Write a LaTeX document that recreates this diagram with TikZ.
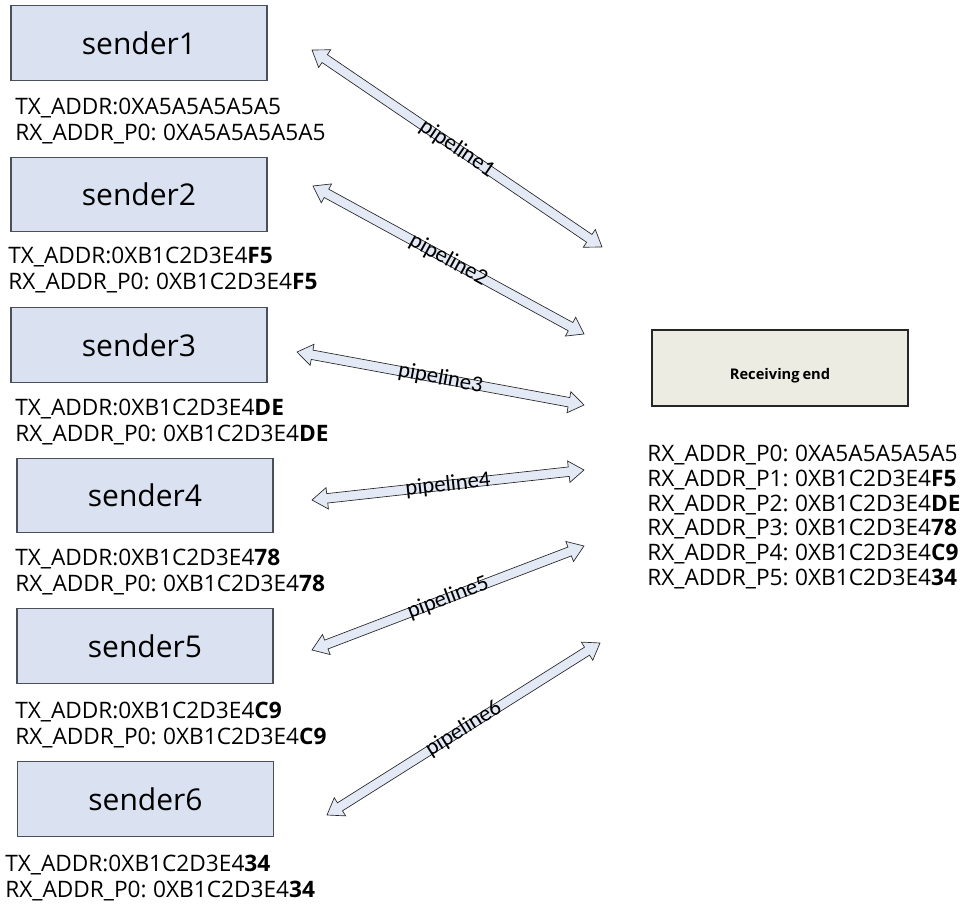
\documentclass[tikz,border=0pt]{standalone}
\usepackage{fontspec}
\setmainfont{Open Sans}[WordSpace=0.75]
\newfontfamily\pipefont{Carlito}
\usetikzlibrary{calc}
\usetikzlibrary{shapes.arrows}

\definecolor{senderfill}{HTML}{DAE1F0}
\definecolor{recvfill}{HTML}{ECECE2}
\definecolor{pipefill}{HTML}{E3E9F5}
\definecolor{boxline}{HTML}{4A4F58}

\begin{document}
\begin{tikzpicture}[
    x=0.75pt, y=-0.75pt,
    senderbox/.style={
      draw=boxline, fill=senderfill, line width=0.8pt,
      minimum width=192pt, minimum height=56pt,
      font=\fontsize{22.5}{26}\selectfont
    },
    recvbox/.style={
      draw=black!85, fill=recvfill, line width=0.8pt,
      minimum width=192pt, minimum height=57pt
    },
    addr/.style={
      anchor=west, align=left, inner sep=0pt,
      font=\fontsize{17}{19.5}\selectfont
    },
    pipe/.style={
      double arrow, draw=black!85, fill=pipefill, line width=0.5pt,
      inner sep=3.3pt, double arrow head extend=4.5pt,
      double arrow head indent=0pt, double arrow tip angle=70
    },
    pipelabel/.style={
      sloped, inner sep=0pt, font=\pipefont\fontsize{17}{17}\selectfont
    }
  ]
    \useasboundingbox (0,0) rectangle (965,913);

    \node[senderbox] (S1) at (139,  43)   {sender1};
    \node[senderbox] (S2) at (139, 194.5) {sender2};
    \node[senderbox] (S3) at (139, 345)   {sender3};
    \node[senderbox] (S4) at (145, 495.5) {sender4};
    \node[senderbox] (S5) at (145, 646)   {sender5};
    \node[senderbox] (S6) at (145.5,799)  {sender6};

    \node[addr] (S1A) at (15,121) {TX\_ADDR:0XA5A5A5A5A5\\RX\_ADDR\_P0: 0XA5A5A5A5A5};
    \node[addr] (S2A) at ( 8,270) {TX\_ADDR:0XB1C2D3E4\textbf{F5}\\RX\_ADDR\_P0: 0XB1C2D3E4\textbf{F5}};
    \node[addr] (S3A) at (15,422) {TX\_ADDR:0XB1C2D3E4\textbf{DE}\\RX\_ADDR\_P0: 0XB1C2D3E4\textbf{DE}};
    \node[addr] (S4A) at (15,572) {TX\_ADDR:0XB1C2D3E4\textbf{78}\\RX\_ADDR\_P0: 0XB1C2D3E4\textbf{78}};
    \node[addr] (S5A) at (15,725) {TX\_ADDR:0XB1C2D3E4\textbf{C9}\\RX\_ADDR\_P0: 0XB1C2D3E4\textbf{C9}};
    \node[addr] (S6A) at ( 5,878) {TX\_ADDR:0XB1C2D3E4\textbf{34}\\RX\_ADDR\_P0: 0XB1C2D3E4\textbf{34}};

    \node[recvbox] (RE) at (780,368) {};
    \node[font=\fontsize{11}{13}\bfseries] (RET) at ([yshift=-6pt]RE.center) {Receiving end};

    \node[addr, font=\fontsize{17}{18.5}\selectfont] (REA) at (647,517)
      {RX\_ADDR\_P0: 0XA5A5A5A5A5\\
       RX\_ADDR\_P1: 0XB1C2D3E4\textbf{F5}\\
       RX\_ADDR\_P2: 0XB1C2D3E4\textbf{DE}\\
       RX\_ADDR\_P3: 0XB1C2D3E4\textbf{78}\\
       RX\_ADDR\_P4: 0XB1C2D3E4\textbf{C9}\\
       RX\_ADDR\_P5: 0XB1C2D3E4\textbf{34}};

    \foreach \i/\ax/\ay/\bx/\by in {1/312/50/602/247,
                                    2/313/186/584/334,
                                    3/297/352/584/405,
                                    4/312/500/584/470,
                                    5/312/650/584/546,
                                    6/327/815/600/643}{
      \coordinate (P\i A) at (\ax,\ay);
      \coordinate (P\i B) at (\bx,\by);
      \path let \p1=($(P\i B)-(P\i A)$), \n1={veclen(\x1,\y1)}, \n2={atan2(\y1,\x1)} in
        node[pipe, minimum height=\n1, rotate=\n2] (P\i) at ($(P\i A)!0.5!(P\i B)$) {};
      \path (P\i A) -- (P\i B) node[midway, pipelabel] {pipeline\i};
    }
  \end{tikzpicture}
\end{document}
